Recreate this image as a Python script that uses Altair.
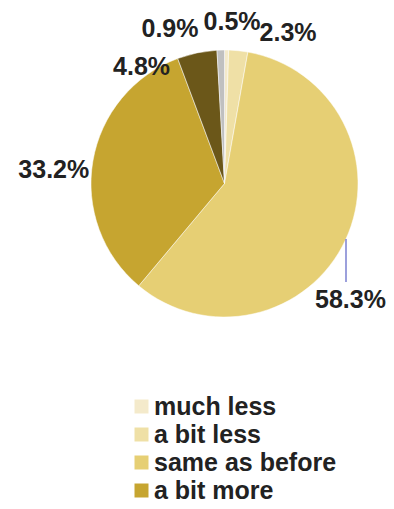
import math
import altair as alt
import pandas as pd

# ---- data ----
categories = ["much less", "a bit less", "same as before", "a bit more", "a lot more", "don't know"]
values = [0.5, 2.3, 58.3, 33.2, 4.8, 0.9]
labels = ["0.5%", "2.3%", "58.3%", "33.2%", "4.8%", "0.9%"]
colors = ["#F4EACB", "#EFE0A6", "#E6CF74", "#C6A530", "#6B5719", "#C0C0C0"]
legend_shown = ["much less", "a bit less", "same as before", "a bit more"]

df = pd.DataFrame({
    "category": categories,
    "value": values,
    "label": labels,
    "idx": list(range(len(categories))),
})

# ---- layout ----
W, H = 378, 493
CX, CY = 216.5, 175.5
R = 133.5
LABEL_R = 160
FONT = "Liberation Sans"
nudges = {  # label: (dx, dy)
    "0.5%": (5, -2),
    "2.3%": (47, 9),
    "0.9%": (-50, 5),
    "4.8%": (-50, 40),
    "33.2%": (-13, 14),
    "58.3%": (-19, 49),
}

base = alt.Chart(df)

pie = base.mark_arc(outerRadius=R, x=CX, y=CY, stroke="white", strokeWidth=0.5).encode(
    theta=alt.Theta("value:Q", stack=True),
    color=alt.Color(
        "category:N",
        sort=categories,
        scale=alt.Scale(domain=categories, range=colors),
        legend=alt.Legend(
            title=None,
            values=legend_shown,
            orient="none",
            legendX=121,
            legendY=386,
            direction="vertical",
            symbolType="square",
            symbolSize=196,
            symbolStrokeWidth=0,
            labelFont=FONT,
            labelFontSize=25,
            labelFontWeight="bold",
            labelColor="#222222",
            labelOffset=0,
            rowPadding=2,
            padding=0,
            labelLimit=400,
        ),
    ),
    order=alt.Order("idx:Q"),
)

stacked = base.transform_window(
    cum="sum(value)", sort=[alt.SortField("idx")]
).transform_calculate(
    mid="datum.cum - datum.value / 2"
)

label_layers = []
for lab in labels:
    dx, dy = nudges[lab]
    label_layers.append(
        stacked.transform_filter(alt.datum.label == lab).mark_text(
            x=CX, y=CY, radius=LABEL_R, dx=dx, dy=dy,
            font=FONT, fontSize=25, fontWeight="bold", color="#222222",
            align="center", baseline="middle",
        ).encode(
            theta=alt.Theta("mid:Q", scale=alt.Scale(domain=[0, 100], range=[0, 2 * math.pi])),
            text="label:N",
        )
    )

leader = base.transform_filter(alt.datum.label == "58.3%").mark_rule(
    color="#7B80D0", strokeWidth=1.5
).encode(x=alt.value(338), y=alt.value(231), y2=alt.value(274))

chart = alt.layer(pie, leader, *label_layers).properties(
    width=W, height=H, autosize="none", padding=0
).configure_view(stroke=None)

chart.save("out.html", embed_options={"renderer": "svg", "actions": False})
